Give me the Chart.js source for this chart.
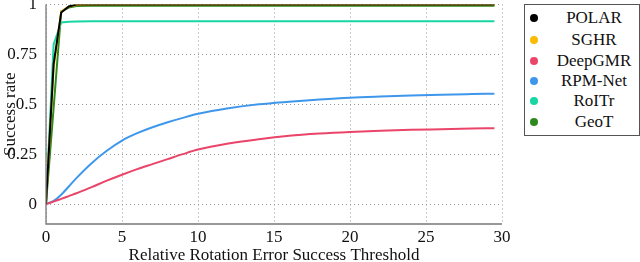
<!DOCTYPE html>
<html>
<head>
<meta charset="utf-8">
<script src="https://cdn.jsdelivr.net/npm/chart.js@4"></script>
<style>
  html, body { margin: 0; padding: 0; background: #fff; }
  #wrap { position: relative; width: 640px; height: 262px; }
  #legend {
    position: absolute; left: 524px; top: 4px; width: 114px; height: 130px;
    border: 1px solid #555; background: #fff;
    font-family: "Liberation Serif", serif; font-size: 17px; color: #111;
  }
  .row { position: absolute; left: 0; width: 114px; height: 20px; }
  .dot { position: absolute; left: 5px; top: 6px; width: 8px; height: 8px; border-radius: 50%; }
  .lbl { position: absolute; left: 30px; width: 78px; text-align: center; top: 0; line-height: 20px; }
</style>
</head>
<body>
<div id="wrap">
  <canvas id="chart" width="640" height="262"></canvas>
  <div id="legend"></div>
</div>
<script>
// data
const thresholds = [0, 0.5, 1, 1.5, 2, 3, 4, 5, 6, 7, 8, 9, 10, 12, 14, 16, 18, 20, 22, 24, 26, 28, 29.5];
const methods = ['POLAR', 'SGHR', 'DeepGMR', 'RPM-Net', 'RoITr', 'GeoT'];
const colors = ['#000000', '#fbbc05', '#ea4469', '#3f97ec', '#17d6a2', '#2f8a1d'];

const polar   = [0, 0.70, 0.96, 0.99, 1, 1, 1, 1, 1, 1, 1, 1, 1, 1, 1, 1, 1, 1, 1, 1, 1, 1, 1];
const sghr    = [0, 0.68, 0.965, 0.99, 0.998, 1, 1, 1, 1, 1, 1, 1, 1, 1, 1, 1, 1, 1, 1, 1, 1, 1, 1];
const deepgmr = [0, 0.012, 0.026, 0.04, 0.054, 0.085, 0.117, 0.147, 0.175, 0.2, 0.225, 0.25, 0.273, 0.303, 0.325, 0.342, 0.353, 0.361, 0.367, 0.372, 0.375, 0.378, 0.38];
const rpmnet  = [0, 0.016, 0.047, 0.088, 0.13, 0.205, 0.267, 0.318, 0.355, 0.385, 0.41, 0.432, 0.452, 0.48, 0.5, 0.513, 0.524, 0.533, 0.539, 0.544, 0.548, 0.551, 0.553];
const roitr   = [0, 0.80, 0.91, 0.914, 0.915, 0.916, 0.916, 0.916, 0.916, 0.916, 0.916, 0.916, 0.916, 0.916, 0.916, 0.916, 0.916, 0.916, 0.916, 0.916, 0.916, 0.916, 0.916];
const geot    = [0, 0.48, 0.965, 0.985, 0.993, 0.994, 0.994, 0.994, 0.994, 0.994, 0.994, 0.994, 0.994, 0.994, 0.994, 0.994, 0.994, 0.994, 0.994, 0.994, 0.994, 0.994, 0.994];

const xTicks = [0, 5, 10, 15, 20, 25, 30];
const yTicks = [0, 0.25, 0.5, 0.75, 1];

const series = [polar, sghr, deepgmr, rpmnet, roitr, geot];
const smooth = [false, false, true, true, false, false];

const serif = '"Liberation Serif", serif';

const datasets = series.map((vals, i) => ({
  label: methods[i],
  data: vals.map((v, j) => ({ x: thresholds[j], y: v })),
  borderColor: colors[i],
  backgroundColor: colors[i],
  borderWidth: 2,
  pointRadius: 0,
  tension: 0,
  cubicInterpolationMode: smooth[i] ? 'monotone' : 'default'
}));

// axis line is drawn solid by a small plugin, grid is dotted
const axisLines = {
  id: 'axisLines',
  afterDatasetsDraw(chart) {
    const { ctx, chartArea: a } = chart;
    ctx.save();
    ctx.strokeStyle = '#777';
    ctx.lineWidth = 1.3;
    ctx.beginPath();
    ctx.moveTo(a.left, a.top);
    ctx.lineTo(a.left, a.bottom);
    ctx.lineTo(a.right, a.bottom);
    ctx.stroke();
    ctx.restore();
  }
};

new Chart(document.getElementById('chart'), {
  type: 'line',
  data: { datasets: datasets },
  plugins: [axisLines],
  options: {
    responsive: false,
    animation: false,
    layout: { padding: { top: 4.5, right: 138, left: 0, bottom: 0 } },
    plugins: { legend: { display: false }, tooltip: { enabled: false } },
    scales: {
      x: {
        type: 'linear',
        min: 0, max: 30,
        afterBuildTicks: s => { s.ticks = xTicks.map(v => ({ value: v })); },
        afterFit: s => { s.height = 38; s.paddingLeft = 0; s.paddingRight = 0; },
        grid: { color: '#999', drawTicks: false, lineWidth: 1 },
        border: { display: false, dash: [1, 3] },
        ticks: { color: '#111', padding: 3, font: { family: serif, size: 17 } },
        title: {
          display: true, text: 'Relative Rotation Error Success Threshold',
          color: '#111', padding: 0, font: { family: serif, size: 17, lineHeight: 0.75 }
        }
      },
      y: {
        type: 'linear',
        min: -0.1, max: 1,
        afterBuildTicks: s => { s.ticks = yTicks.map(v => ({ value: v })); },
        afterFit: s => { s.width = 46; s.paddingTop = 0; s.paddingBottom = 0; },
        grid: { color: '#999', drawTicks: false, lineWidth: 1 },
        border: { display: false, dash: [1, 3] },
        ticks: { color: '#111', padding: 9, font: { family: serif, size: 17 }, callback: v => String(v) },
        title: {
          display: true, text: 'Success rate',
          color: '#111', padding: 0, font: { family: serif, size: 17, lineHeight: 1.2 }
        }
      }
    }
  }
});

// legend box drawn as html from the same arrays
const legend = document.getElementById('legend');
const rowTops = [3, 25, 46, 65.5, 86, 107];
methods.forEach((m, i) => {
  const row = document.createElement('div');
  row.className = 'row';
  row.style.top = rowTops[i] + 'px';
  row.innerHTML = `<span class="dot" style="background:${colors[i]}"></span><span class="lbl">${m}</span>`;
  legend.appendChild(row);
});
</script>
</body>
</html>
